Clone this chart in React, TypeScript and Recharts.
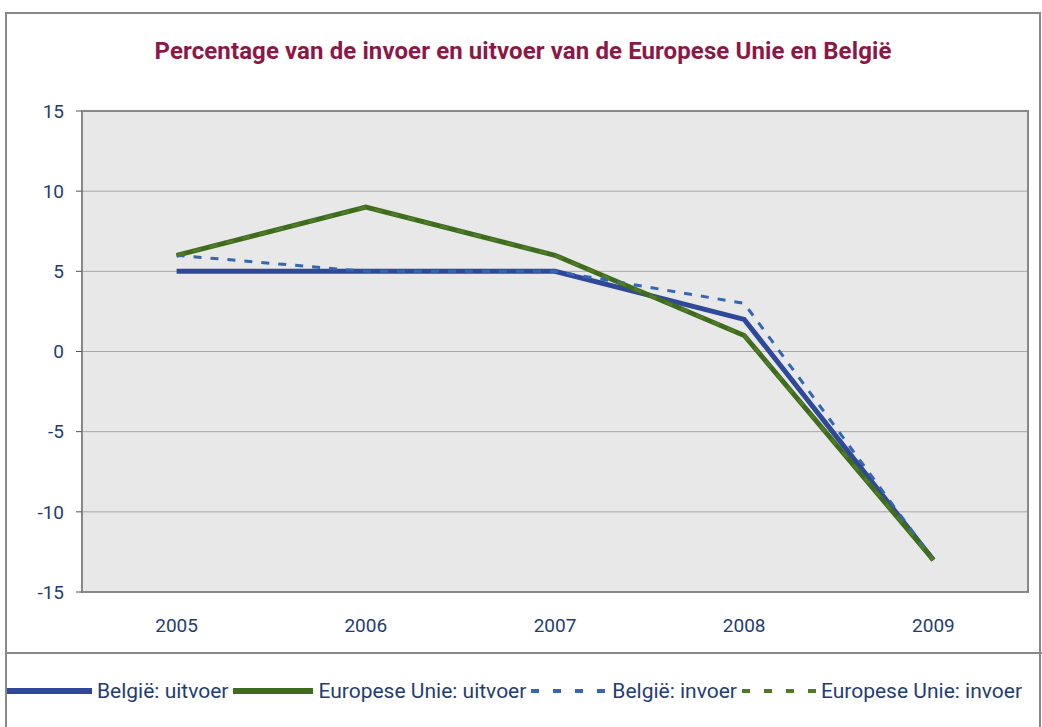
import { CartesianGrid, Line, LineChart, ReferenceArea, XAxis, YAxis } from 'recharts'

const YEARS = ['2005', '2006', '2007', '2008', '2009']
const BE_EXPORT = [5, 5, 5, 2, -13]
const EU_EXPORT = [6, 9, 6, 1, -13]
const BE_IMPORT = [6, 5, 5, 3, -13]
const EU_IMPORT = [6, 9, 6, 1, -13]
const Y_TICKS = [-15, -10, -5, 0, 5, 10, 15]
const SEP_TICKS = [0, 1, 2, 3, 4, 5]

const SERIES = [
  { key: 'beExport', name: 'België: uitvoer', color: '#2f4899', width: 5, dash: undefined as string | undefined, legendW: 85 },
  { key: 'euExport', name: 'Europese Unie: uitvoer', color: '#3f6b1e', width: 5, dash: undefined as string | undefined, legendW: 80 },
  { key: 'beImport', name: 'België: invoer', color: '#3566b0', width: 3, dash: '8 9', legendW: 76 },
  { key: 'euImport', name: 'Europese Unie: invoer', color: '#4f7a26', width: 3, dash: '8 9', legendW: 74 }
]

const data = YEARS.map((year, i) => ({
  year,
  beExport: BE_EXPORT[i],
  euExport: EU_EXPORT[i],
  beImport: BE_IMPORT[i],
  euImport: EU_IMPORT[i]
}))

const FONT = "Roboto, 'Liberation Sans', sans-serif"
const TEXT = '#1f3d73'

export default function App() {
  return (
    <div style={{ position: 'absolute', left: 0, top: 0, width: 1042, height: 727, overflow: 'hidden', background: '#fff', fontFamily: FONT }}>
      <div style={{ position: 'absolute', left: 5, top: 12, width: 1036, height: 760, border: '2px solid #888', boxSizing: 'border-box' }} />
      <div style={{ position: 'absolute', left: 5, top: 652, width: 1037, height: 0, borderTop: '2px solid #888' }} />
      <div style={{ position: 'absolute', left: 5, top: 37, width: 1036, textAlign: 'center', color: '#8c1846', fontWeight: 700, fontSize: 24, letterSpacing: 0.1 }}>
        Percentage van de invoer en uitvoer van de Europese Unie en België
      </div>
      <div style={{ position: 'absolute', left: 0, top: 0 }}>
        <LineChart width={1042} height={645} data={data} margin={{ top: 111, right: 14, bottom: 0, left: 0 }}>
          <CartesianGrid vertical={false} fill="#e8e8e8" stroke="#a6a6a6" strokeWidth={1} />
          <XAxis xAxisId="sep" type="number" domain={[0, 5]} ticks={SEP_TICKS} allowDataOverflow height={0}
            axisLine={false} tickLine={{ stroke: '#555' }} tickSize={7} tickFormatter={() => ''} />
          <XAxis dataKey="year" scale="band" height={53} axisLine={{ stroke: '#888', strokeWidth: 2 }} tickLine={false}
            tickSize={0} tickMargin={27} tick={{ fill: TEXT, fontSize: 19, fontFamily: FONT }} />
          <YAxis domain={[-15, 15]} ticks={Y_TICKS} width={82} axisLine={{ stroke: '#888', strokeWidth: 2 }}
            tickLine={{ stroke: '#555' }} tickSize={6} tickMargin={12} interval={0}
            tick={{ fill: TEXT, fontSize: 19, fontFamily: FONT }} />
          <ReferenceArea y1={-15} y2={15} fill="none" stroke="#888" strokeWidth={2} ifOverflow="visible" />
          {SERIES.map((s) => (
            <Line key={s.key} type="linear" dataKey={s.key} name={s.name} stroke={s.color} strokeWidth={s.width}
              strokeDasharray={s.dash} dot={false} activeDot={false} isAnimationActive={false} />
          ))}
        </LineChart>
      </div>
      <div style={{ position: 'absolute', left: 7, top: 679, display: 'flex', alignItems: 'center', whiteSpace: 'nowrap', color: TEXT, fontSize: 21, letterSpacing: 0 }}>
        {SERIES.map((s) => (
          <div key={s.key} style={{ display: 'flex', alignItems: 'center', marginRight: 5 }}>
            <svg width={s.legendW} height={10} style={{ marginRight: 5 }}>
              <line x1={0} y1={5} x2={s.legendW} y2={5} stroke={s.color} strokeWidth={s.width + 1} strokeDasharray={s.dash ? '8 14' : undefined} />
            </svg>
            <span>{s.name}</span>
          </div>
        ))}
      </div>
    </div>
  )
}
